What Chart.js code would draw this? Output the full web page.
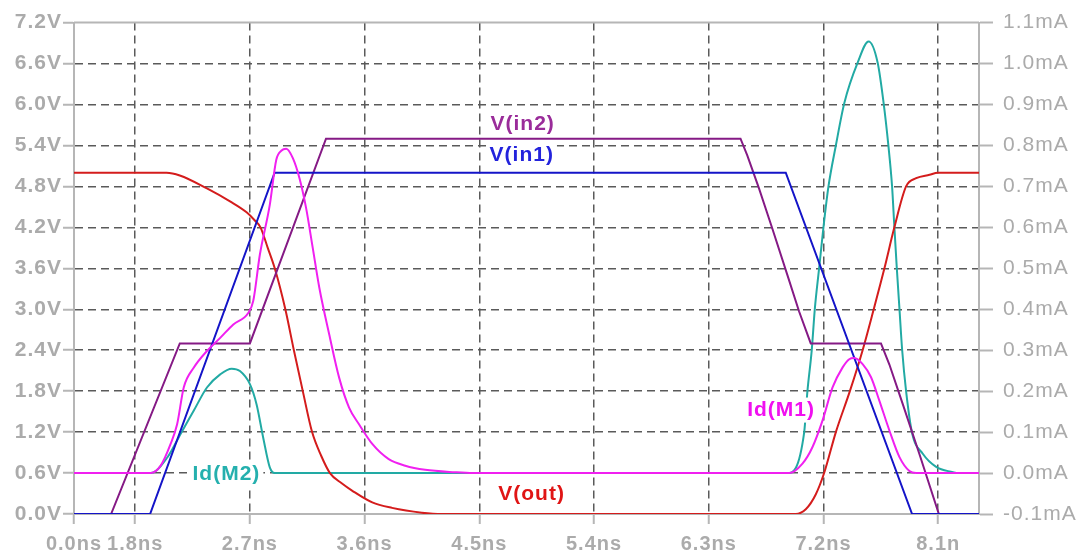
<!DOCTYPE html>
<html>
<head>
<meta charset="utf-8">
<title>NAND gate transient</title>
<script src="https://cdn.jsdelivr.net/npm/chart.js"></script>
<style>
  html, body { margin: 0; padding: 0; background: #fff; }
  canvas { display: block; }
</style>
</head>
<body>
<canvas id="tran" width="1077" height="555"></canvas>
<script>
// time window of the plot, in ns
const X_MIN = 1.32
const X_MAX = 8.42

const xTickValues = [X_MIN, 1.8, 2.7, 3.6, 4.5, 5.4, 6.3, 7.2, 8.1]
const xTickLabels = ["0.0ns", "1.8ns", "2.7ns", "3.6ns", "4.5ns", "5.4ns", "6.3ns", "7.2ns", "8.1n"]
const vTickValues = [0, 0.6, 1.2, 1.8, 2.4, 3.0, 3.6, 4.2, 4.8, 5.4, 6.0, 6.6, 7.2]
const vTickLabels = ["0.0V", "0.6V", "1.2V", "1.8V", "2.4V", "3.0V", "3.6V", "4.2V", "4.8V", "5.4V", "6.0V", "6.6V", "7.2V"]
const iTickValues = [-0.1, 0, 0.1, 0.2, 0.3, 0.4, 0.5, 0.6, 0.7, 0.8, 0.9, 1.0, 1.1]
const iTickLabels = ["-0.1mA", "0.0mA", "0.1mA", "0.2mA", "0.3mA", "0.4mA", "0.5mA", "0.6mA", "0.7mA", "0.8mA", "0.9mA", "1.0mA", "1.1mA"]

// V(in1)
const in1T = [1.32, 1.917, 2.894, 6.904, 7.895, 8.42]
const in1V = [0, 0, 5.0, 5.0, 0, 0]

// V(in2)
const in2T = [1.32, 1.611, 2.15, 2.70, 3.297, 6.549, 6.602, 6.694, 6.799, 6.917, 7.008, 7.10, 7.651, 7.717, 7.822, 7.953, 8.105, 8.42]
const in2V = [0, 0, 2.5, 2.5, 5.5, 5.5, 5.255, 4.77, 4.18, 3.50, 2.97, 2.5, 2.5, 2.19, 1.61, 0.876, 0, 0]

// V(out)
const outT = [1.32, 2.046, 2.15, 2.363, 2.544, 2.674, 2.739, 2.783, 2.84, 2.895, 2.978, 3.045, 3.115, 3.188, 3.26, 3.328, 3.42, 3.504, 3.66, 3.815, 4.049, 4.205,
	6.982, 7.061, 7.14, 7.205, 7.297, 7.407, 7.507, 7.594, 7.678, 7.756, 7.848, 7.927, 8.032, 8.097, 8.42]
const outV = [5.0, 5.0, 4.96, 4.77, 4.58, 4.42, 4.30, 4.2, 3.9, 3.6, 3.0, 2.4, 1.8, 1.2, 0.85, 0.6, 0.45, 0.34, 0.17, 0.09, 0.02, 0,
	0, 0.07, 0.29, 0.6, 1.2, 1.8, 2.4, 3.0, 3.6, 4.2, 4.8, 4.92, 4.97, 5.0, 5.0]

// Id(M1), mA
const m1T = [1.32, 1.922, 2.0, 2.078, 2.129, 2.181, 2.259, 2.363, 2.467, 2.57, 2.687, 2.726, 2.778, 2.856, 2.907, 2.946, 2.985, 3.037, 3.089, 3.141, 3.193, 3.245,
	3.322, 3.40, 3.478, 3.556, 3.66, 3.789, 3.919, 4.075, 4.308, 4.45,
	6.93, 7.035, 7.113, 7.192, 7.271, 7.35, 7.402, 7.441, 7.507, 7.573, 7.638, 7.717, 7.796, 7.874, 7.927, 8.42]
const m1I = [0, 0, 0.018, 0.071, 0.119, 0.209, 0.257, 0.298, 0.330, 0.363, 0.391, 0.420, 0.533, 0.655, 0.765, 0.787, 0.792, 0.769, 0.720, 0.647, 0.550, 0.452,
	0.339, 0.233, 0.160, 0.119, 0.071, 0.034, 0.018, 0.008, 0.002, 0,
	0, 0.023, 0.063, 0.128, 0.209, 0.258, 0.278, 0.281, 0.266, 0.234, 0.177, 0.104, 0.039, 0.005, 0, 0]

// Id(M2), mA
const m2T = [1.32, 1.922, 2.052, 2.155, 2.259, 2.363, 2.467, 2.557, 2.622, 2.70, 2.752, 2.804, 2.856, 2.895,
	6.917, 7.048, 7.074, 7.108, 7.132, 7.166, 7.20, 7.239, 7.297, 7.363, 7.468, 7.554, 7.625, 7.672, 7.709, 7.738, 7.756, 7.775, 7.796, 7.817, 7.848, 7.895,
	7.979, 8.084, 8.215, 8.242, 8.42]
const m2I = [0, 0, 0.038, 0.095, 0.152, 0.209, 0.241, 0.255, 0.249, 0.217, 0.168, 0.087, 0.014, 0,
	0, 0.098, 0.200, 0.301, 0.401, 0.501, 0.601, 0.700, 0.800, 0.903, 1.002, 1.054, 1.002, 0.903, 0.800, 0.700, 0.601, 0.501, 0.401, 0.301, 0.200, 0.098,
	0.047, 0.015, 0.002, 0, 0]

// trace names written inside the plot (placed in ns / V units)
const traceLabels = [
	{ text: "V(in2)", t: 4.84, v: 5.73, color: "#9a2c9a" },
	{ text: "V(in1)", t: 4.833, v: 5.27, color: "#2323dc" },
	{ text: "V(out)", t: 4.91, v: 0.30, color: "#e01515" },
	{ text: "Id(M2)", t: 2.516, v: 0.60, color: "#25b0ae" },
	{ text: "Id(M1)", t: 6.867, v: 1.53, color: "#f010f0" },
]

const AXIS_LINE = "#b6b6b6"
const AXIS_TEXT = "#ababab"
const GRID = "#5a5a5a"
const NONE = "rgba(0,0,0,0)"
const FONT = "'Liberation Sans', Arial, sans-serif"

const toPoints = (ts, ys) => ts.map((t, i) => ({ x: t, y: ys[i] }))

const spacing = {
	id: "spacing",
	beforeInit(chart) { chart.ctx.letterSpacing = "1px" },
	beforeDraw(chart) { chart.ctx.letterSpacing = "1px" },
}

// top frame line and the trace names with their white boxes
const frame = {
	id: "frame",
	beforeDatasetsDraw(chart) {
		const { ctx, chartArea } = chart
		ctx.save()
		ctx.strokeStyle = AXIS_LINE
		ctx.lineWidth = 2
		ctx.beginPath()
		ctx.moveTo(chartArea.left, chartArea.top)
		ctx.lineTo(chartArea.right, chartArea.top)
		ctx.stroke()
		ctx.restore()
	},
	afterDatasetsDraw(chart) {
		const { ctx, scales } = chart
		ctx.save()
		ctx.font = "bold 21px " + FONT
		ctx.textAlign = "center"
		ctx.textBaseline = "middle"
		traceLabels.forEach((l) => {
			const x = scales.x.getPixelForValue(l.t)
			const y = scales.y.getPixelForValue(l.v)
			const w = ctx.measureText(l.text).width + 6
			ctx.fillStyle = "#fff"
			ctx.fillRect(x - w / 2, y - 12, w, 25)
			ctx.fillStyle = l.color
			ctx.fillText(l.text, x, y + 1)
		})
		ctx.restore()
	},
}

const line = (label, ts, ys, color, axis, smooth) => ({
	label,
	data: toPoints(ts, ys),
	yAxisID: axis,
	borderColor: color,
	borderWidth: 2,
	pointRadius: 0,
	fill: false,
	tension: 0,
	cubicInterpolationMode: smooth ? "monotone" : "default",
})

new Chart(document.getElementById("tran").getContext("2d"), {
	type: "line",
	data: {
		datasets: [
			line("Id(M1)", m1T, m1I, "#f020f0", "y2", true),
			line("V(in1)", in1T, in1V, "#1414c8", "y", false),
			line("V(in2)", in2T, in2V, "#851a85", "y", false),
			line("V(out)", outT, outV, "#d41c1c", "y", true),
			line("Id(M2)", m2T, m2I, "#22aaa4", "y2", true),
		],
	},
	options: {
		responsive: false,
		animation: false,
		layout: { padding: { top: 21, left: 0, right: 0, bottom: 0 } },
		plugins: { legend: { display: false }, tooltip: { enabled: false } },
		scales: {
			x: {
				type: "linear",
				min: X_MIN,
				max: X_MAX,
				afterBuildTicks: (s) => { s.ticks = xTickValues.map((v) => ({ value: v })) },
				afterFit: (s) => { s.height = 41 },
				ticks: {
					autoSkip: false,
					maxRotation: 0,
					padding: 8,
					color: AXIS_TEXT,
					font: { family: FONT, size: 20, weight: "bold" },
					callback: (v, i) => xTickLabels[i],
				},
				grid: {
					color: (c) => (c.index === 0 ? NONE : GRID),
					lineWidth: 1.5,
					tickColor: AXIS_LINE,
					tickLength: 10,
					tickWidth: 2,
				},
				border: { color: AXIS_LINE, width: 2, dash: [8, 5] },
			},
			y: {
				position: "left",
				min: 0,
				max: 7.2,
				afterBuildTicks: (s) => { s.ticks = vTickValues.map((v) => ({ value: v })) },
				afterFit: (s) => { s.width = 74 },
				ticks: {
					padding: 1,
					color: AXIS_TEXT,
					font: { family: FONT, size: 21, weight: "bold" },
					callback: (v, i) => vTickLabels[i],
				},
				grid: {
					color: (c) => (c.index === 0 || c.index === vTickValues.length - 1 ? NONE : GRID),
					lineWidth: 1.5,
					tickColor: AXIS_LINE,
					tickLength: 11,
					tickWidth: 2,
				},
				border: { color: AXIS_LINE, width: 2, dash: [8, 5] },
			},
			y2: {
				position: "right",
				min: -0.1,
				max: 1.1,
				afterBuildTicks: (s) => { s.ticks = iTickValues.map((v) => ({ value: v })) },
				afterFit: (s) => { s.width = 98 },
				ticks: {
					padding: 10,
					color: AXIS_TEXT,
					font: { family: FONT, size: 21 },
					callback: (v, i) => iTickLabels[i],
				},
				grid: {
					drawOnChartArea: false,
					tickColor: AXIS_LINE,
					tickLength: 14,
					tickWidth: 2,
				},
				border: { color: AXIS_LINE, width: 2 },
			},
		},
	},
	plugins: [spacing, frame],
})
</script>
</body>
</html>
